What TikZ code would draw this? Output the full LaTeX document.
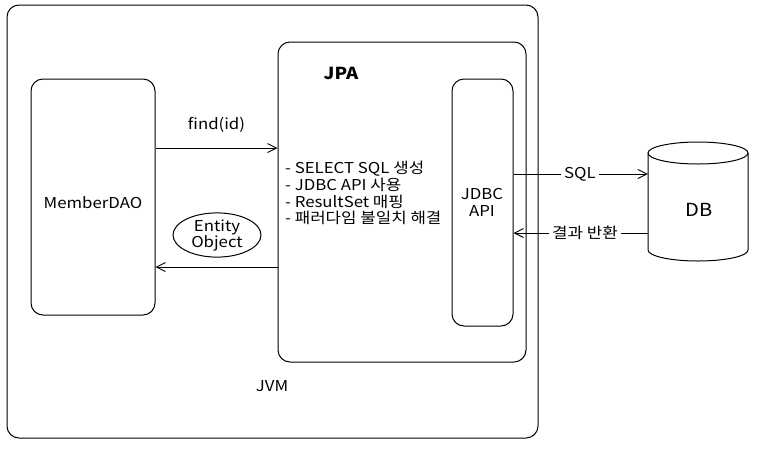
\documentclass[tikz,border=0pt]{standalone}
\usepackage{fontspec}
\setmainfont{Noto Sans CJK KR}[FakeStretch=1.12]
\usetikzlibrary{shapes.geometric,arrows.meta}
\begin{document}
\begin{tikzpicture}[x=1pt,y=-1pt,
  box/.style={draw, line width=1pt, rounded corners=12pt, inner sep=0pt},
  arr/.style={line width=0.9pt, -{Straight Barb[length=9pt,width=9pt,line width=0.9pt]}},
  txt/.style={font=\fontsize{15}{17}\selectfont, inner sep=1pt},
  every node/.append style={font=\fontsize{15}{17}\selectfont}]
\useasboundingbox (0,0) rectangle (759,448);
\fill[white] (0,0) rectangle (759,448);
\node[box, minimum width=531pt, minimum height=433pt] (jvm) at (272.5,221.5) {};
\node[box, minimum width=248pt, minimum height=320pt] (jpa) at (402,202) {};
\node[box, minimum width=124pt, minimum height=236pt] (dao) at (93,197) {};
\node[box, minimum width=61pt, minimum height=247pt] (jdbc) at (482.5,202.5) {};
% database cylinder
\node[minimum width=100pt, minimum height=122pt, inner sep=0pt] (db) at (698,201) {};
\draw[line width=1pt] (648,153) arc[start angle=180, end angle=0, x radius=50, y radius=11]
  arc[start angle=0, end angle=-180, x radius=50, y radius=11] -- cycle;
\draw[line width=1pt] (648,153) -- (648,250)
  arc[start angle=180, end angle=0, x radius=50, y radius=11] -- (748,153);

\node[txt] (daolbl) at (93,203) {MemberDAO};
\node[txt, font=\fontsize{16.5}{18}\selectfont\bfseries] (jpalbl) at (341,73) {JPA};
\node[txt, align=center] (jdbclbl) at (482,202) {JDBC\\API};
\node[txt, font=\fontsize{18}{20}\selectfont] (dblbl) at (699,210) {DB};
\node[txt] (jvmlbl) at (272,386) {JVM};
\node[txt, anchor=north west, align=left, font=\fontsize{15}{16.7}\selectfont] (list) at (284,160)
  {- SELECT SQL 생성\\- JDBC API 사용\\- ResultSet 매핑\\- 패러다임 불일치 해결};

\coordinate (y1) at (0,148);
\coordinate (y2) at (0,267);
\coordinate (y3) at (0,174);
\coordinate (y4) at (0,233);
\draw[arr] (dao.east |- y1) -- (jpa.west |- y1) node[midway, above=14pt, txt] (find) {find(id)};
\draw[arr] (jpa.west |- y2) -- (dao.east |- y2);
\node[draw, ellipse, line width=1pt, minimum width=88pt, minimum height=44pt, inner sep=0pt,
  align=center, font=\fontsize{15}{16}\selectfont] (ent) at (217,235) {Entity\\Object};

\draw[arr] (jdbc.east |- y3) -- (db.west |- y3);
\node[txt, fill=white, inner sep=3pt] (sql) at (580,174) {SQL};
\draw[arr] (db.west |- y4) -- (jdbc.east |- y4);
\node[txt, fill=white, inner sep=3pt] (ret) at (585,233) {결과 반환};
\end{tikzpicture}
\end{document}
